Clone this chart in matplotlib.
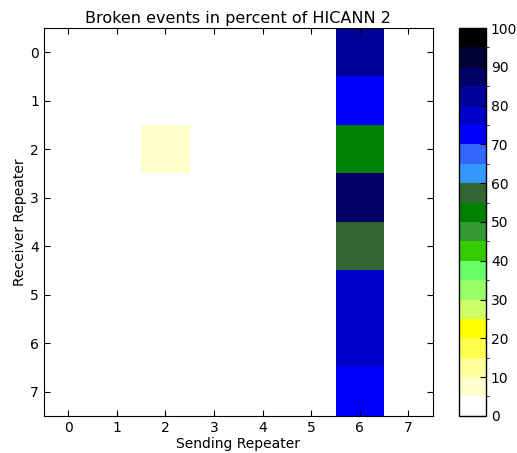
import numpy as np
import matplotlib
matplotlib.use("Agg")
import matplotlib.pyplot as plt
from matplotlib.colors import ListedColormap, BoundaryNorm

# 8x8 grid: rows = receiver repeater, cols = sending repeater
receivers = list(range(8))
senders = list(range(8))
col6_values = [82, 72, 52, 87, 57, 77, 77, 72]
cell_2_2 = 7

levels = list(range(0, 105, 5))
level_colors = ['#ffffff', '#ffffcc', '#ffff99', '#ffff4c', '#ffff00',
                '#ccff66', '#99ff66', '#66ff66', '#33cc00', '#339933',
                '#008000', '#336633', '#3399ff', '#3366ff', '#0000ff',
                '#0000cc', '#000099', '#000066', '#000033', '#000000']

data = np.zeros((len(receivers), len(senders)))
data[:, 6] = col6_values
data[2, 2] = cell_2_2

cmap = ListedColormap(level_colors)
norm = BoundaryNorm(levels, cmap.N)

fig = plt.figure(figsize=(5.17, 4.53), dpi=100)
ax = fig.add_axes([0.085, 0.082, 0.752, 0.856])
im = ax.imshow(data, cmap=cmap, norm=norm, interpolation='nearest', aspect='auto')

ax.set_xticks(senders)
ax.set_yticks(receivers)
ax.tick_params(direction='in', top=True, right=True, length=4, labelsize=10)
ax.set_xlabel("Sending Repeater", fontsize=10, labelpad=2)
ax.set_ylabel("Receiver Repeater", fontsize=10, labelpad=2)
ax.set_title("Broken events in percent of HICANN 2", fontsize=11.5, pad=4)

cax = fig.add_axes([0.888, 0.082, 0.052, 0.856])
cb = fig.colorbar(im, cax=cax, ticks=list(range(0, 101, 10)))
cb.ax.tick_params(direction='in', length=4, labelsize=10)
cb.outline.set_linewidth(1)

fig.savefig("out.png", dpi=100)
